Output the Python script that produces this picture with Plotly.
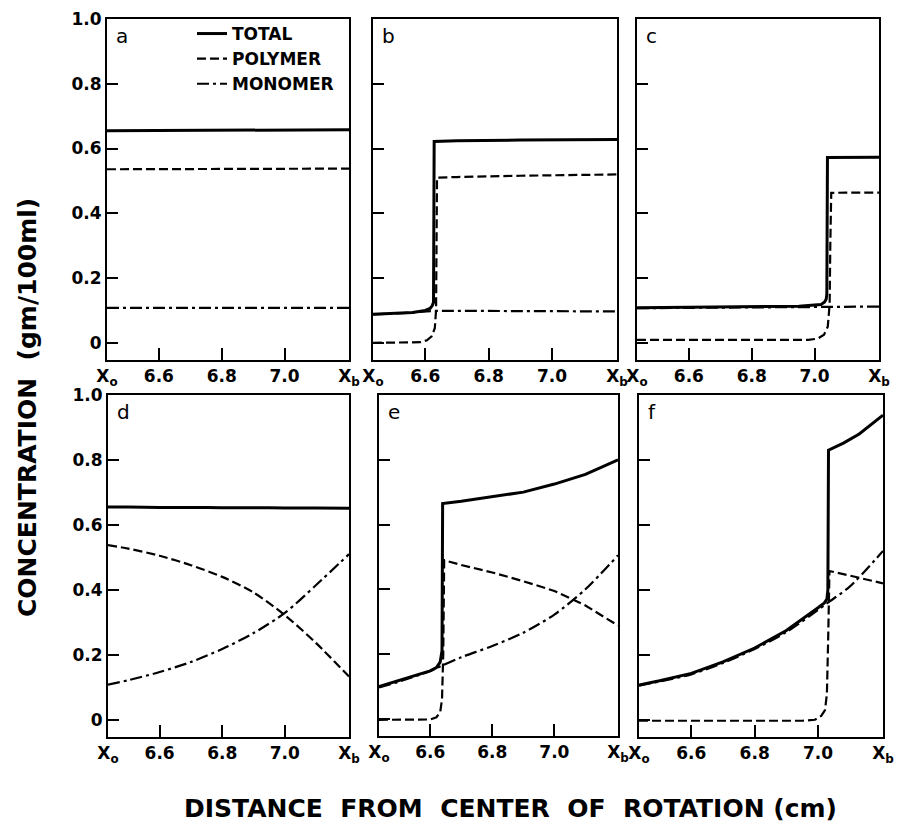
import plotly.graph_objects as go

# ---------------- data ----------------
XO, XB = 6.435, 7.205
x_tickvals = [XO, 6.6, 6.8, 7.0, XB]
x_ticktext = ["X<sub>o</sub>", "6.6", "6.8", "7.0", "X<sub>b</sub>"]
y_tickvals = [0, 0.2, 0.4, 0.6, 0.8, 1.0]
y_ticktext = ["0", "0.2", "0.4", "0.6", "0.8", "1.0"]
panel_letters = ["a", "b", "c", "d", "e", "f"]
series_names = ["TOTAL", "POLYMER", "MONOMER"]

# panel a
a_x = [6.435, 7.205]
a_total = [0.655, 0.658]
a_poly = [0.536, 0.538]
a_mono = [0.108, 0.108]

# panel b
b_x_total = [6.435, 6.50, 6.56, 6.60, 6.615, 6.622, 6.626, 6.628, 6.70, 6.90, 7.205]
b_total = [0.088, 0.091, 0.094, 0.100, 0.106, 0.115, 0.125, 0.622, 0.624, 0.626, 0.628]
b_x_poly = [6.435, 6.55, 6.585, 6.605, 6.62, 6.63, 6.634, 6.637, 6.70, 6.90, 7.205]
b_poly = [0.0, 0.0, 0.002, 0.008, 0.02, 0.045, 0.10, 0.51, 0.512, 0.516, 0.52]
b_x_mono = [6.435, 6.55, 6.63, 6.80, 7.00, 7.205]
b_mono = [0.088, 0.093, 0.099, 0.099, 0.098, 0.097]

# panel c
c_x_total = [6.435, 6.70, 6.95, 7.02, 7.032, 7.037, 7.039, 7.041, 7.10, 7.205]
c_total = [0.108, 0.110, 0.113, 0.118, 0.126, 0.135, 0.15, 0.572, 0.572, 0.573]
c_x_poly = [6.435, 6.98, 7.01, 7.03, 7.042, 7.048, 7.050, 7.053, 7.10, 7.205]
c_poly = [0.009, 0.009, 0.013, 0.025, 0.05, 0.12, 0.30, 0.463, 0.464, 0.464]
c_x_mono = [6.435, 7.00, 7.04, 7.205]
c_mono = [0.107, 0.110, 0.112, 0.112]

# panel d
d_x = [6.435, 6.5, 6.6, 6.7, 6.8, 6.9, 7.0, 7.1, 7.205]
d_total = [0.655, 0.655, 0.654, 0.654, 0.653, 0.653, 0.652, 0.652, 0.651]
d_poly = [0.538, 0.527, 0.505, 0.476, 0.440, 0.392, 0.322, 0.236, 0.133]
d_mono = [0.108, 0.122, 0.147, 0.178, 0.218, 0.267, 0.329, 0.415, 0.510]

# panel e
e_x_total = [6.435, 6.5, 6.55, 6.6, 6.62, 6.632, 6.638, 6.640, 6.70, 6.80, 6.90, 7.00, 7.10, 7.205]
e_total = [0.100, 0.118, 0.132, 0.148, 0.158, 0.175, 0.21, 0.665, 0.672, 0.685, 0.700, 0.725, 0.755, 0.800]
e_x_poly = [6.435, 6.55, 6.60, 6.62, 6.632, 6.638, 6.642, 6.645, 6.70, 6.80, 6.90, 7.00, 7.10, 7.205]
e_poly = [-0.003, -0.003, -0.002, 0.005, 0.02, 0.06, 0.20, 0.49, 0.475, 0.452, 0.425, 0.395, 0.350, 0.288]
e_x_mono = [6.435, 6.5, 6.6, 6.64, 6.7, 6.8, 6.9, 7.0, 7.1, 7.205]
e_mono = [0.097, 0.115, 0.148, 0.165, 0.190, 0.225, 0.266, 0.322, 0.400, 0.505]

# panel f
f_x_total = [6.435, 6.5, 6.6, 6.7, 6.8, 6.9, 7.0, 7.02, 7.028, 7.031, 7.033, 7.08, 7.13, 7.205]
f_total = [0.107, 0.120, 0.143, 0.178, 0.221, 0.275, 0.345, 0.360, 0.372, 0.40, 0.830, 0.852, 0.880, 0.938]
f_x_poly = [6.435, 6.95, 6.99, 7.01, 7.022, 7.028, 7.032, 7.036, 7.10, 7.205]
f_poly = [-0.003, -0.003, 0.0, 0.012, 0.03, 0.08, 0.25, 0.458, 0.444, 0.420]
f_x_mono = [6.435, 6.5, 6.6, 6.7, 6.8, 6.9, 7.0, 7.03, 7.1, 7.205]
f_mono = [0.105, 0.118, 0.140, 0.175, 0.218, 0.270, 0.338, 0.360, 0.410, 0.520]

panel_data = [
    ((a_x, a_total), (a_x, a_poly), (a_x, a_mono)),
    ((b_x_total, b_total), (b_x_poly, b_poly), (b_x_mono, b_mono)),
    ((c_x_total, c_total), (c_x_poly, c_poly), (c_x_mono, c_mono)),
    ((d_x, d_total), (d_x, d_poly), (d_x, d_mono)),
    ((e_x_total, e_total), (e_x_poly, e_poly), (e_x_mono, e_mono)),
    ((f_x_total, f_total), (f_x_poly, f_poly), (f_x_mono, f_mono)),
]
# traces without a step can be drawn as smooth curves
smooth = {(3, 0), (3, 1), (3, 2), (4, 2), (5, 2)}

# ---------------- layout geometry ----------------
W, H = 898, 826
# pixel boxes (left, right, top, bottom)
boxes = [
    (107, 349, 19, 360),
    (373, 617, 19, 360),
    (637, 879, 19, 360),
    (108, 349, 395, 737),
    (379, 618, 395, 736),
    (639, 883, 395, 737),
]

FONT = "DejaVu Sans"
line_styles = [
    dict(color="black", width=3, dash="solid"),
    dict(color="black", width=2.2, dash="9px,4px"),
    dict(color="black", width=2.2, dash="12px,4px,3px,4px"),
]

fig = go.Figure()
for i, series in enumerate(panel_data):
    ax = "" if i == 0 else str(i + 1)
    for j, (xs, ys) in enumerate(series):
        st = dict(line_styles[j])
        if (i, j) in smooth:
            st["shape"] = "spline"
            st["smoothing"] = 0.8
        fig.add_trace(go.Scatter(
            x=xs, y=ys, mode="lines", name=series_names[j],
            line=st, xaxis="x" + ax, yaxis="y" + ax,
            showlegend=(i == 0), hoverinfo="skip",
        ))

layout = dict(
    width=W, height=H, paper_bgcolor="white", plot_bgcolor="white",
    margin=dict(l=0, r=0, t=0, b=0, autoexpand=False),
    font=dict(family=FONT, color="black"),
    legend=dict(
        x=192 / W, y=1 - 16 / H, xanchor="left", yanchor="top",
        bgcolor="rgba(0,0,0,0)", borderwidth=0,
        font=dict(family=FONT, size=17, weight="bold", color="black"),
        itemwidth=30, tracegroupgap=0,
    ),
    annotations=[],
)

for i, (l, r, t, b) in enumerate(boxes):
    ax = "" if i == 0 else str(i + 1)
    layout["xaxis" + ax] = dict(
        domain=[l / W, r / W], range=[XO, XB], anchor="y" + ax,
        showline=True, linecolor="black", linewidth=2, mirror=True,
        ticks="inside", ticklen=12, tickwidth=2, tickcolor="black",
        tickvals=x_tickvals, ticktext=x_ticktext,
        tickfont=dict(family=FONT, size=17, weight="bold", color="black"),
        showgrid=False, zeroline=False, fixedrange=True, automargin=False,
    )
    layout["yaxis" + ax] = dict(
        domain=[1 - b / H, 1 - t / H], range=[-0.053, 1.0], anchor="x" + ax,
        showline=True, linecolor="black", linewidth=2, mirror=True,
        ticks="inside", ticklen=11, tickwidth=2, tickcolor="black",
        tickvals=y_tickvals, ticktext=y_ticktext,
        showticklabels=(i % 3 == 0),
        tickfont=dict(family=FONT, size=17, weight="bold", color="black"),
        showgrid=False, zeroline=False, fixedrange=True, automargin=False,
    )
    layout["annotations"].append(dict(
        text=panel_letters[i], xref="x" + ax + " domain", yref="y" + ax + " domain",
        x=0.03, y=0.99, xanchor="left", yanchor="top", showarrow=False,
        font=dict(family=FONT, size=20, color="black"),
    ))

layout["annotations"].append(dict(
    text="DISTANCE\u00a0\u00a0FROM\u00a0\u00a0CENTER\u00a0\u00a0OF\u00a0\u00a0ROTATION\u00a0(cm)",
    xref="paper", yref="paper", x=510 / W, y=1 - 808 / H,
    xanchor="center", yanchor="middle", showarrow=False,
    font=dict(family=FONT, size=25, weight="bold", color="black"),
))
layout["annotations"].append(dict(
    text="CONCENTRATION\u00a0\u00a0(gm/100ml)",
    xref="paper", yref="paper", x=27 / W, y=1 - 408 / H,
    xanchor="center", yanchor="middle", showarrow=False, textangle=-90,
    font=dict(family=FONT, size=25, weight="bold", color="black"),
))

fig.update_layout(**layout)
fig.write_html(
    "out.html",
    config={"displayModeBar": False, "responsive": False},
    post_script="document.body.style.margin='0';document.body.style.overflow='hidden';",
)
